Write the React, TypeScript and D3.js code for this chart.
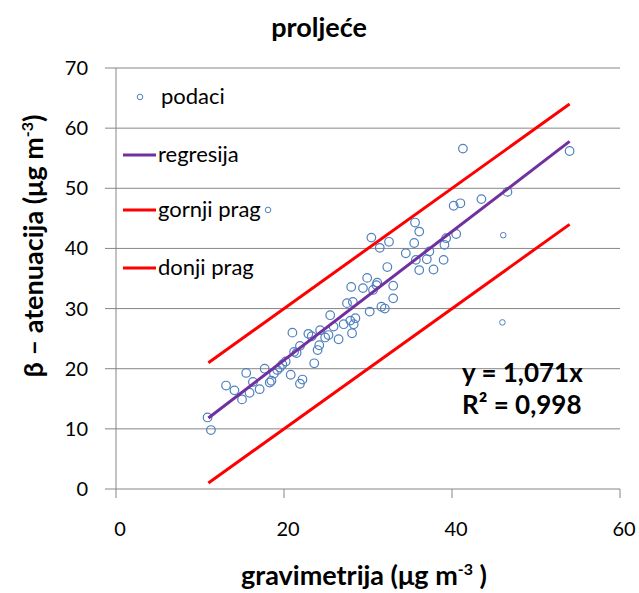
import React from "react";
import * as d3 from "d3";

// gravimetrija vs beta-atenuacija, proljeće
const podaciX = [
  10.9, 11.3, 13.1, 14.1, 15.0, 15.5, 15.9, 16.3, 17.1, 17.7, 18.3, 18.5, 18.8, 19.2, 19.5, 19.8,
  20.2, 20.8, 21.9, 22.2, 23.6, 21.0, 21.5, 21.2, 21.9, 22.9, 23.3, 24.0, 24.2, 24.3, 24.9, 25.3,
  25.5, 25.9, 26.5, 27.1, 27.5, 27.9, 28.2, 28.0, 28.1, 28.3, 28.5, 29.4, 29.9, 30.2, 30.6, 31.0,
  31.1, 31.6, 32.0, 32.3, 30.4, 31.4, 32.5, 35.6, 36.1, 35.5, 34.5, 35.7, 37.0, 37.3, 39.1, 39.0,
  36.1, 37.8, 41.3, 40.2, 41.0, 43.5, 46.6, 54.0, 40.5, 39.3, 33.0, 33.0,
];
const podaciY = [
  11.9, 9.8, 17.2, 16.4, 14.9, 19.3, 16.0, 17.8, 16.6, 20.0, 17.7, 18.0, 19.2, 19.8, 20.2, 20.7,
  21.2, 19.0, 17.5, 18.2, 20.9, 26.0, 22.6, 22.8, 23.8, 25.8, 25.4, 23.1, 23.9, 26.4, 25.2, 25.6,
  28.9, 27.0, 24.9, 27.4, 30.9, 28.0, 31.1, 33.6, 25.9, 27.4, 28.4, 33.4, 35.1, 29.5, 33.1, 33.9,
  34.3, 30.3, 30.0, 36.9, 41.8, 40.1, 41.1, 44.3, 42.8, 40.9, 39.2, 38.1, 38.2, 39.5, 40.6, 38.1,
  36.4, 36.5, 56.6, 47.1, 47.5, 48.2, 49.4, 56.2, 42.4, 41.7, 33.8, 31.7,
];
// small markers
const maliX = [46.1, 46.0, 18.1];
const maliY = [42.2, 27.7, 46.4];

const lineX = [11, 54];
const regresijaY = [11.8, 57.8];
const gornjiY = [21, 64];
const donjiY = [1, 44];

const xTicks = [0, 20, 40, 60];
const yTicks = [0, 10, 20, 30, 40, 50, 60, 70];

const legend = [
  { label: "podaci", type: "point", color: "#4f81bd" },
  { label: "regresija", type: "line", color: "#7030a0" },
  { label: "gornji prag", type: "line", color: "#ff0000" },
  { label: "donji prag", type: "line", color: "#ff0000" },
];

const FONT = "Lato, 'Open Sans', sans-serif";

export default function App() {
  const width = 639;
  const height = 593;
  const x = d3.scaleLinear().domain([0, 60]).range([116, 620]);
  const y = d3.scaleLinear().domain([0, 70]).range([489, 68]);

  const line = d3
    .line<[number, number]>()
    .x((d) => x(d[0]))
    .y((d) => y(d[1]));

  const pts = (ys: number[]) => lineX.map((v, i) => [v, ys[i]] as [number, number]);

  const legendY = [97, 155, 210, 268];

  return (
    <svg
      width={width}
      height={height}
      style={{ position: "absolute", left: 0, top: 0, background: "#fff" }}
      fontFamily={FONT}
    >
      <rect width={width} height={height} fill="#fff" />
      {/* title */}
      <text x={319} y={37} textAnchor="middle" fontSize={27} fontWeight="bold" fill="#000">
        proljeće
      </text>

      {/* grid lines */}
      {yTicks.map((t) => (
        <line key={t} x1={105} x2={620} y1={y(t)} y2={y(t)} stroke="#868686" strokeWidth={1} />
      ))}
      <line x1={x(0)} x2={x(0)} y1={y(70)} y2={y(0) + 9} stroke="#868686" strokeWidth={1} />
      {xTicks.slice(1).map((t) => (
        <line key={t} x1={x(t)} x2={x(t)} y1={y(0)} y2={y(0) + 9} stroke="#868686" strokeWidth={1} />
      ))}

      {/* tick labels */}
      {yTicks.map((t) => (
        <text key={t} x={88} y={y(t) + 7} textAnchor="end" fontSize={20} fill="#000">
          {t}
        </text>
      ))}
      {xTicks.map((t) => (
        <text key={t} x={x(t) + 4} y={536} textAnchor="middle" fontSize={20} fill="#000">
          {t}
        </text>
      ))}

      {/* axis titles */}
      <text x={364} y={585} textAnchor="middle" fontSize={27} fontWeight="bold" fill="#000">
        gravimetrija (μg m
        <tspan fontSize={16} dy={-10}>-3</tspan>
        <tspan dy={10}> )</tspan>
      </text>
      <text
        transform="translate(43,246) rotate(-90)"
        textAnchor="middle"
        fontSize={27}
        fontWeight="bold"
        fill="#000"
      >
        β – atenuacija (μg m
        <tspan fontSize={16} dy={-10}>-3</tspan>
        <tspan dy={10}>)</tspan>
      </text>

      {/* lines */}
      <path d={line(pts(gornjiY)) ?? ""} fill="none" stroke="#ff0000" strokeWidth={3} />
      <path d={line(pts(donjiY)) ?? ""} fill="none" stroke="#ff0000" strokeWidth={3} />

      {/* points */}
      {podaciX.map((v, i) => (
        <circle
          key={i}
          cx={x(v)}
          cy={y(podaciY[i])}
          r={4.3}
          fill="none"
          stroke="#4f81bd"
          strokeWidth={1.2}
        />
      ))}
      {maliX.map((v, i) => (
        <circle
          key={"m" + i}
          cx={x(v)}
          cy={y(maliY[i])}
          r={2.8}
          fill="none"
          stroke="#4f81bd"
          strokeWidth={1}
        />
      ))}
      <path d={line(pts(regresijaY)) ?? ""} fill="none" stroke="#7030a0" strokeWidth={3} />

      {/* legend */}
      {legend.map((l, i) => (
        <g key={l.label}>
          {l.type === "point" ? (
            <circle cx={140} cy={legendY[i]} r={2.8} fill="none" stroke={l.color} strokeWidth={1} />
          ) : (
            <line x1={123} x2={156} y1={legendY[i]} y2={legendY[i]} stroke={l.color} strokeWidth={3} />
          )}
          <text
            x={l.type === "point" ? 161 : 158}
            y={legendY[i] + 7}
            fontSize={22}
            fill="#000"
          >
            {l.label}
          </text>
        </g>
      ))}

      {/* equation */}
      <text x={462} y={382} fontSize={26} fontWeight="bold" fill="#000">
        y = 1,071x
      </text>
      <text x={462} y={414} fontSize={26} fontWeight="bold" fill="#000">
        R² = 0,998
      </text>
    </svg>
  );
}
